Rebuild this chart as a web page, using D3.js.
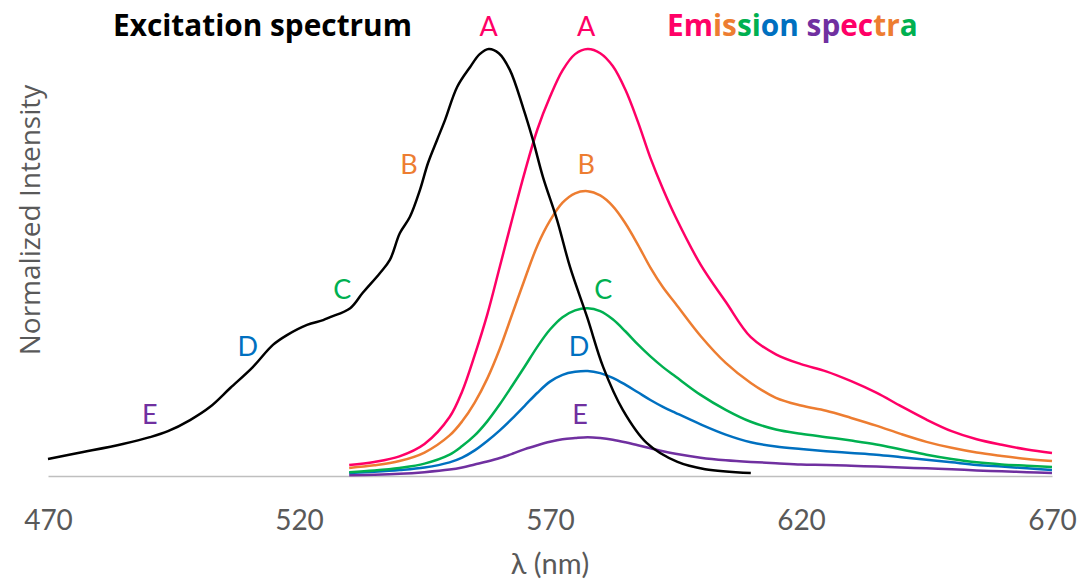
<!DOCTYPE html>
<html><head><meta charset="utf-8">
<script src="https://cdn.jsdelivr.net/npm/d3@7"></script>
<style>html,body{margin:0;padding:0;background:#fff;}svg{display:block;}</style>
</head><body>
<svg id="chart" width="1079" height="579"></svg>
<script>
// ---- data ----
const xTicks = [470, 520, 570, 620, 670];
const excitation = [[470,0.040],[477,0.056],[484.9,0.075],[490.3,0.091],[493.9,0.105],[498.3,0.131],[502.3,0.162],[506.3,0.206],[510.8,0.255],[514.8,0.307],[517.6,0.330],[521.6,0.354],[524.8,0.365],[526.2,0.372],[530.2,0.393],[532.7,0.429],[536.1,0.475],[538.1,0.506],[540.1,0.569],[542.1,0.607],[544.1,0.670],[545.7,0.733],[547.5,0.787],[549.1,0.834],[551.5,0.911],[554.1,0.958],[556,0.988],[557.8,1.0],[559.8,0.99],[562.0,0.951],[564.6,0.864],[566.6,0.787],[568.6,0.700],[571.4,0.600],[574.0,0.489],[577.4,0.372],[580.6,0.255],[584.5,0.155],[589.3,0.077],[595.4,0.033],[600.9,0.016],[610,0.007]];
const emissionNm = [530,535,540,545,550,552.5,555,557.5,560,562.5,565,567.5,570,572.5,575,577.5,580,582.5,585,587.5,590,592.5,595,600,605,610,615,620,625,630,635,640,645,650,655,660,665,670];
const emissionA = [0.026,0.033,0.046,0.075,0.138,0.198,0.283,0.378,0.490,0.603,0.713,0.812,0.888,0.950,0.988,1.0,0.990,0.960,0.905,0.830,0.745,0.672,0.607,0.495,0.408,0.325,0.285,0.262,0.245,0.222,0.195,0.163,0.132,0.105,0.086,0.073,0.062,0.054];
const emissionB = [0.019,0.025,0.035,0.055,0.095,0.128,0.172,0.228,0.298,0.380,0.462,0.540,0.598,0.640,0.662,0.667,0.657,0.632,0.592,0.542,0.488,0.442,0.404,0.328,0.265,0.218,0.183,0.165,0.153,0.136,0.118,0.098,0.080,0.066,0.055,0.047,0.040,0.035];
const emissionC = [0.009,0.013,0.019,0.029,0.050,0.070,0.095,0.128,0.168,0.212,0.257,0.303,0.343,0.372,0.388,0.393,0.386,0.367,0.339,0.308,0.280,0.255,0.233,0.190,0.155,0.127,0.109,0.099,0.091,0.083,0.074,0.062,0.050,0.040,0.032,0.027,0.024,0.021];
const emissionD = [0.007,0.010,0.014,0.020,0.032,0.043,0.060,0.082,0.107,0.135,0.165,0.195,0.221,0.237,0.244,0.246,0.241,0.230,0.214,0.196,0.178,0.162,0.148,0.121,0.097,0.079,0.069,0.063,0.058,0.054,0.050,0.044,0.038,0.032,0.026,0.022,0.018,0.014];
const emissionE = [0.002,0.003,0.005,0.009,0.015,0.020,0.027,0.034,0.042,0.052,0.063,0.072,0.080,0.086,0.089,0.091,0.089,0.085,0.079,0.072,0.065,0.058,0.052,0.043,0.037,0.033,0.030,0.027,0.026,0.024,0.022,0.020,0.018,0.016,0.013,0.011,0.009,0.007];
const seriesNames = ["A","B","C","D","E"];
const seriesColors = ["#FF0066","#ED7D31","#00B050","#0070C0","#7030A0"];
// label anchor positions (nm, value) for the letter labels
const excitationLabelPos = [[557.8,1.055],[541.9,0.733],[528.6,0.438],[509.8,0.305],[490.3,0.146]];
const emissionLabelPos = [[577.2,1.055],[577.2,0.733],[580.6,0.438],[575.8,0.305],[576,0.146]];
const emissionTitle = "Emission spectra";
const emissionTitleColors = ["#FF0066","#FF0066","#ED7D31","#ED7D31","#00B050","#00B050","#0070C0","#0070C0",null,"#7030A0","#7030A0","#FF0066","#FF0066","#ED7D31","#ED7D31","#00B050"];

// ---- drawing ----
const svg = d3.select("#chart");
const font = "Lato, 'Open Sans', sans-serif";
const titleFont = "'Open Sans', Lato, sans-serif";
const x = d3.scaleLinear().domain([470, 670]).range([48, 1052]);
const y = d3.scaleLinear().domain([0, 1]).range([476, 49]);

// x axis
const xAxis = d3.axisBottom(x).tickValues(xTicks).tickSize(0).tickPadding(34).tickFormat(d3.format("d"));
const gx = svg.append("g").attr("transform", `translate(0,${y(0)})`).call(xAxis);
gx.select(".domain").attr("stroke", "#BFBFBF").attr("stroke-width", 1.5);
gx.selectAll("text").attr("font-family", font).attr("font-size", 28).attr("fill", "#595959");

// axis titles
svg.append("text").attr("x", x(570)).attr("y", 574).attr("text-anchor", "middle")
  .attr("font-family", font).attr("font-size", 29).attr("fill", "#595959").text("λ (nm)");
svg.append("text").attr("transform", `translate(40,${220}) rotate(-90)`).attr("text-anchor", "middle")
  .attr("font-family", titleFont).attr("font-size", 28).attr("fill", "#595959").text("Normalized Intensity");

const line = d3.line().x(d => x(d[0])).y(d => y(d[1])).curve(d3.curveCatmullRom.alpha(0.5));

const emissions = [emissionA, emissionB, emissionC, emissionD, emissionE];
for (let i = emissions.length - 1; i >= 0; i--) {
  const pts = emissionNm.map((nm, k) => [nm, emissions[i][k]]);
  svg.append("path").datum(pts).attr("d", line).attr("fill", "none")
    .attr("stroke", seriesColors[i]).attr("stroke-width", 2.5);
}
svg.append("path").datum(excitation).attr("d", line).attr("fill", "none")
  .attr("stroke", "#000").attr("stroke-width", 2.5);

// letter labels
seriesNames.forEach((n, i) => {
  [excitationLabelPos[i], emissionLabelPos[i]].forEach(p => {
    svg.append("text").attr("x", x(p[0])).attr("y", y(p[1])).attr("text-anchor", "middle")
      .attr("dominant-baseline", "central")
      .attr("font-family", font).attr("font-size", 27).attr("fill", seriesColors[i]).text(n);
  });
});

// titles
svg.append("text").attr("x", 113).attr("y", 36).attr("font-family", titleFont).attr("font-weight", 700)
  .attr("font-size", 29.8).attr("fill", "#000").text("Excitation spectrum");
const et = svg.append("text").attr("x", 667).attr("y", 36).attr("font-family", titleFont)
  .attr("font-weight", 700).attr("font-size", 29.8);
emissionTitle.split("").forEach((ch, i) => {
  et.append("tspan").attr("fill", emissionTitleColors[i] || "#000").text(ch);
});
</script>
</body></html>
